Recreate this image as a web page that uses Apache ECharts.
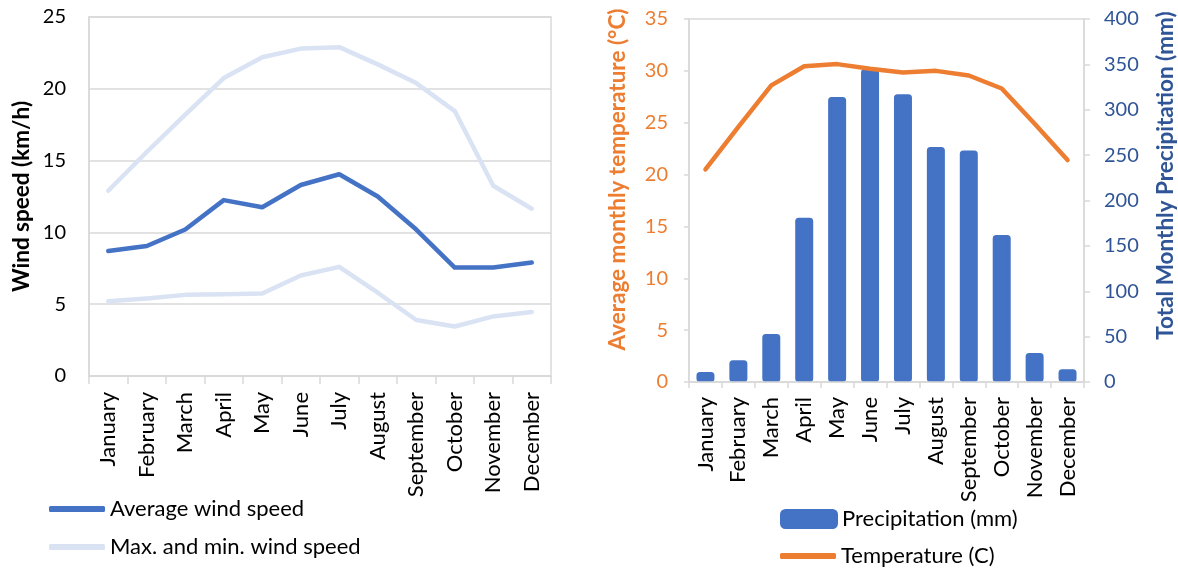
<!DOCTYPE html>
<html>
<head>
<meta charset="utf-8">
<title>Wind speed and climate by month</title>
<script src="https://cdn.jsdelivr.net/npm/echarts@6/dist/echarts.min.js"></script>
<style>
  html, body { margin: 0; padding: 0; background: #fff; }
  #chart { width: 1178px; height: 569px; }
</style>
</head>
<body>
<div id="chart"></div>
<script>
// Month categories shared by both panels
const months = ['January', 'February', 'March', 'April', 'May', 'June',
  'July', 'August', 'September', 'October', 'November', 'December'];

// Wind speed, km/h
const avgWind = [8.7, 9.05, 10.2, 12.25, 11.75, 13.3, 14.05, 12.5, 10.2, 7.55, 7.55, 7.9];
const maxWind = [12.9, 15.6, 18.2, 20.75, 22.2, 22.8, 22.9, 21.7, 20.4, 18.45, 13.25, 11.65];
const minWind = [5.2, 5.4, 5.65, 5.7, 5.75, 7.0, 7.6, 5.8, 3.9, 3.45, 4.15, 4.45];

// Climate: average monthly temperature (°C) and total precipitation (mm)
const temperature = [20.5, 24.6, 28.6, 30.45, 30.65, 30.2, 29.85, 30.0, 29.55, 28.3, 24.9, 21.4];
const precipitation = [11, 24, 53, 181, 314, 345, 317, 259, 255, 162, 32, 14];

// Axis ranges
const windAxis = { min: 0, max: 25, interval: 5 };
const tempAxis = { min: 0, max: 35, interval: 5 };
const precipAxis = { min: 0, max: 400, interval: 50 };

const FONT = 'Lato';
const GRAY = '#d9d9d9';
const BLUE = '#4472C4';
const LIGHT = '#DAE3F3';
const ORANGE = '#ED7D31';
const NAVY = '#2F5597';

const chart = echarts.init(document.getElementById('chart'), null, { renderer: 'canvas' });

const catAxis = (gridIndex, tickLen, margin) => ({
  type: 'category',
  gridIndex,
  data: months,
  boundaryGap: true,
  z: 5,
  axisLine: { show: true, lineStyle: { color: GRAY, width: 1.5 } },
  axisTick: { show: true, length: tickLen, alignWithLabel: false, lineStyle: { color: GRAY, width: 1.5 } },
  axisLabel: { rotate: 90, margin, color: '#000', fontSize: 22, fontFamily: FONT, interval: 0 }
});

const legendText = { color: '#000', fontSize: 22, fontFamily: FONT, lineHeight: 24 };
// Axis titles; left padding nudges the rotated text upward along the axis
const titleStyle = (color, lift) => ({
  color, fontSize: 22.5, fontWeight: 'bold', fontFamily: FONT, padding: [0, 0, 0, lift]
});

chart.setOption({
  animation: false,
  textStyle: { fontFamily: FONT },
  grid: [
    { left: 89, right: 627, top: 17, bottom: 193, show: true, borderColor: GRAY, borderWidth: 1.5 },
    { left: 689, right: 94, top: 19, bottom: 187, show: true, borderColor: GRAY, borderWidth: 1.5 }
  ],
  legend: [
    { data: ['Average wind speed'], left: 49, top: 497, padding: 0, icon: 'roundRect',
      itemWidth: 56, itemHeight: 6, textStyle: legendText },
    { data: ['Max. and min. wind speed'], left: 49, top: 535, padding: 0, icon: 'roundRect',
      itemWidth: 56, itemHeight: 6, textStyle: legendText },
    { data: ['Precipitation (mm)'], left: 780, top: 507, padding: 0, icon: 'roundRect',
      itemWidth: 56, itemHeight: 18, textStyle: legendText },
    { data: ['Temperature (C)'], left: 780, top: 544, padding: 0, icon: 'roundRect',
      itemWidth: 56, itemHeight: 6, textStyle: legendText }
  ],
  xAxis: [
    catAxis(0, 8, 16),
    catAxis(1, 6, 15)
  ],
  yAxis: [
    {
      type: 'value', gridIndex: 0,
      min: windAxis.min, max: windAxis.max, interval: windAxis.interval,
      name: 'Wind speed (km/h)', nameLocation: 'middle', nameGap: 56,
      nameTextStyle: titleStyle('#000', 0),
      axisLine: { show: true, lineStyle: { color: GRAY, width: 1.5 } },
      axisTick: { show: false },
      axisLabel: { color: '#000', fontSize: 20, margin: 23, fontFamily: FONT },
      splitLine: { show: true, lineStyle: { color: GRAY, width: 1.5 } }
    },
    {
      type: 'value', gridIndex: 1, position: 'left',
      min: tempAxis.min, max: tempAxis.max, interval: tempAxis.interval,
      name: 'Average monthly temperature (°C)', nameLocation: 'middle', nameGap: 60,
      nameTextStyle: titleStyle(ORANGE, 42),
      axisLine: { show: true, lineStyle: { color: GRAY, width: 1.5 } },
      axisTick: { show: true, length: 5, lineStyle: { color: GRAY, width: 1.5 } },
      axisLabel: { color: ORANGE, fontSize: 20, margin: 21, fontFamily: FONT },
      splitLine: { show: false }
    },
    {
      type: 'value', gridIndex: 1, position: 'right',
      min: precipAxis.min, max: precipAxis.max, interval: precipAxis.interval,
      name: 'Total Monthly Precipitation (mm)', nameLocation: 'middle', nameGap: 70, nameRotate: 90,
      nameTextStyle: titleStyle(NAVY, 50),
      axisLine: { show: true, lineStyle: { color: GRAY, width: 1.5 } },
      axisTick: { show: true, length: 6, lineStyle: { color: GRAY, width: 1.5 } },
      axisLabel: { color: NAVY, fontSize: 20, margin: 20, fontFamily: FONT },
      splitLine: { show: false }
    }
  ],
  series: [
    {
      name: 'Max. and min. wind speed', type: 'line', xAxisIndex: 0, yAxisIndex: 0,
      data: maxWind, showSymbol: false, symbol: 'none', z: 2,
      itemStyle: { color: LIGHT },
      lineStyle: { color: LIGHT, width: 4.5, cap: 'round', join: 'round' }
    },
    {
      name: 'Max. and min. wind speed', type: 'line', xAxisIndex: 0, yAxisIndex: 0,
      data: minWind, showSymbol: false, symbol: 'none', z: 2,
      itemStyle: { color: LIGHT },
      lineStyle: { color: LIGHT, width: 4.5, cap: 'round', join: 'round' }
    },
    {
      name: 'Average wind speed', type: 'line', xAxisIndex: 0, yAxisIndex: 0,
      data: avgWind, showSymbol: false, symbol: 'none', z: 3,
      itemStyle: { color: BLUE },
      lineStyle: { color: BLUE, width: 4.5, cap: 'round', join: 'round' }
    },
    {
      name: 'Precipitation (mm)', type: 'bar', xAxisIndex: 1, yAxisIndex: 2,
      data: precipitation, barWidth: 18, z: 2,
      itemStyle: { color: BLUE, borderColor: BLUE, borderWidth: 3, borderRadius: 2 }
    },
    {
      name: 'Temperature (C)', type: 'line', xAxisIndex: 1, yAxisIndex: 1,
      data: temperature, showSymbol: false, symbol: 'none', z: 6,
      itemStyle: { color: ORANGE },
      lineStyle: { color: ORANGE, width: 4.5, cap: 'round', join: 'round' }
    }
  ]
});
</script>
</body>
</html>
